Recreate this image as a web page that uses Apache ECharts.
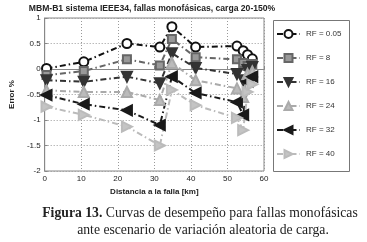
<!DOCTYPE html>
<html><head><meta charset="utf-8">
<script src="https://cdn.jsdelivr.net/npm/echarts@6/dist/echarts.min.js"></script>
<style>html,body{margin:0;padding:0;background:#fff}#c{width:367px;height:242px}</style>
</head><body><div id="c"></div>
<script>
const distances = [0.5, 10.7, 22.5, 31.5, 34.8, 41.3, 52.6, 54.3, 55.5, 56.8];
const rf005 = [0.01, 0.14, 0.50, 0.43, 0.83, 0.43, 0.45, 0.36, 0.28, 0.20];
const rf8   = [-0.12, -0.04, 0.19, 0.07, 0.59, 0.23, 0.19, 0.12, 0.06, 0.10];
const rf16  = [-0.22, -0.25, -0.15, -0.28, 0.31, 0.02, -0.10, -0.22, -0.02, 0.04];
const rf24  = [-0.42, -0.45, -0.45, -0.61, 0.12, -0.22, -0.38, -0.55, -0.10, -0.05];
const rf32  = [-0.51, -0.69, -0.81, -1.10, -0.15, -0.47, -0.65, -0.90, -0.25, -0.15];
const rf40  = [-0.74, -0.90, -1.13, -1.50, -0.41, -0.71, -0.96, -1.20, -0.45, -0.30];
const seriesNames = ['RF = 0.05', 'RF = 8', 'RF = 16', 'RF = 24', 'RF = 32', 'RF = 40'];
const xTicks = [0, 10, 20, 30, 40, 50, 60];
const yTicks = [-2, -1.5, -1, -0.5, 0, 0.5, 1];

const allData = [rf005, rf8, rf16, rf24, rf32, rf40];
const styles = [
  {color:'#111', fill:'#fff', symbol:'circle', rot:0, size:9},
  {color:'#666', fill:'#999', symbol:'rect', rot:0, size:8},
  {color:'#333', fill:'#333', symbol:'triangle', rot:180, size:10},
  {color:'#aaa', fill:'#bbb', symbol:'triangle', rot:0, size:10},
  {color:'#1a1a1a', fill:'#1a1a1a', symbol:'triangle', rot:90, size:10},
  {color:'#bbb', fill:'#c4c4c4', symbol:'triangle', rot:-90, size:10}
];
const series = allData.map((vals, i) => ({
  name: seriesNames[i], type: 'line',
  data: vals.map((v, j) => [distances[j], v]),
  symbol: styles[i].symbol, symbolSize: styles[i].size, symbolRotate: styles[i].rot,
  showAllSymbol: true,
  lineStyle: {color: styles[i].color, width: 2, type: [6, 3, 1.5, 3]},
  itemStyle: {color: styles[i].fill, borderColor: styles[i].color, borderWidth: 2},
  emphasis: {disabled: true}, animation: false
}));

const chart = echarts.init(document.getElementById('c'), null, {renderer: 'canvas'});
chart.setOption({
  backgroundColor: '#fff',
  animation: false,
  graphic: [
    {type: 'text', x: 152, y: 4, style: {
      text: 'MBM-B1 sistema IEEE34, fallas monofásicas, carga 20-150%',
      font: 'bold 8.6px "Liberation Sans"', fill: '#222', align: 'center'
    }},
    {type: 'rect', left: 271, top: 18, shape: {width: 76, height: 151}, style: {fill: null, stroke: '#777', lineWidth: 1}, z: 100},
    {type: 'text', x: 200, y: 206, style: {
      text: '{b|Figura 13.} Curvas de desempeño para fallas monofásicas',
      font: '13.7px "Liberation Serif"', fill: '#222', align: 'center',
      rich: {b: {fontFamily: 'Liberation Serif', fontSize: 13.7, fontWeight: 'bold', fill: '#222'}}
    }},
    {type: 'text', x: 203, y: 223, style: {
      text: 'ante escenario de variación aleatoria de carga.',
      font: '13.7px "Liberation Serif"', fill: '#222', align: 'center'
    }}
  ],
  grid: {left: 40, right: 103, top: 18, bottom: 71, show: true, borderColor: '#888', borderWidth: 1, backgroundColor: '#fff'},
  xAxis: {
    type: 'value', min: xTicks[0], max: xTicks[xTicks.length - 1], interval: 10,
    name: 'Distancia a la falla [km]', nameLocation: 'middle', nameGap: 12,
    nameTextStyle: {fontFamily: 'Liberation Sans', fontSize: 8, fontWeight: 'bold', color: '#222'},
    axisLine: {lineStyle: {color: '#888'}},
    axisTick: {inside: true, length: 3, lineStyle: {color: '#888'}},
    axisLabel: {fontFamily: 'Liberation Sans', fontSize: 8, color: '#222', margin: 4},
    splitLine: {show: true, lineStyle: {color: '#999', type: [1, 2], width: 1}}
  },
  yAxis: {
    type: 'value', min: yTicks[0], max: yTicks[yTicks.length - 1], interval: 0.5,
    name: 'Error %', nameLocation: 'middle', nameGap: 22,
    nameTextStyle: {fontFamily: 'Liberation Sans', fontSize: 8, fontWeight: 'bold', color: '#222'},
    axisLine: {show: true, lineStyle: {color: '#888'}},
    axisTick: {show: true, inside: true, length: 3, lineStyle: {color: '#888'}},
    axisLabel: {fontFamily: 'Liberation Sans', fontSize: 8, color: '#222', margin: 4},
    splitLine: {show: true, lineStyle: {color: '#999', type: [1, 2], width: 1}}
  },
  legend: {
    orient: 'vertical', left: 276, top: 29,
    itemWidth: 23, itemHeight: 10, itemGap: 14,
    padding: 0,
    textStyle: {fontFamily: 'Liberation Sans', fontSize: 8, color: '#333', padding: [0, 0, 0, 1]},
    data: seriesNames
  },
  series: series
});
</script></body></html>
